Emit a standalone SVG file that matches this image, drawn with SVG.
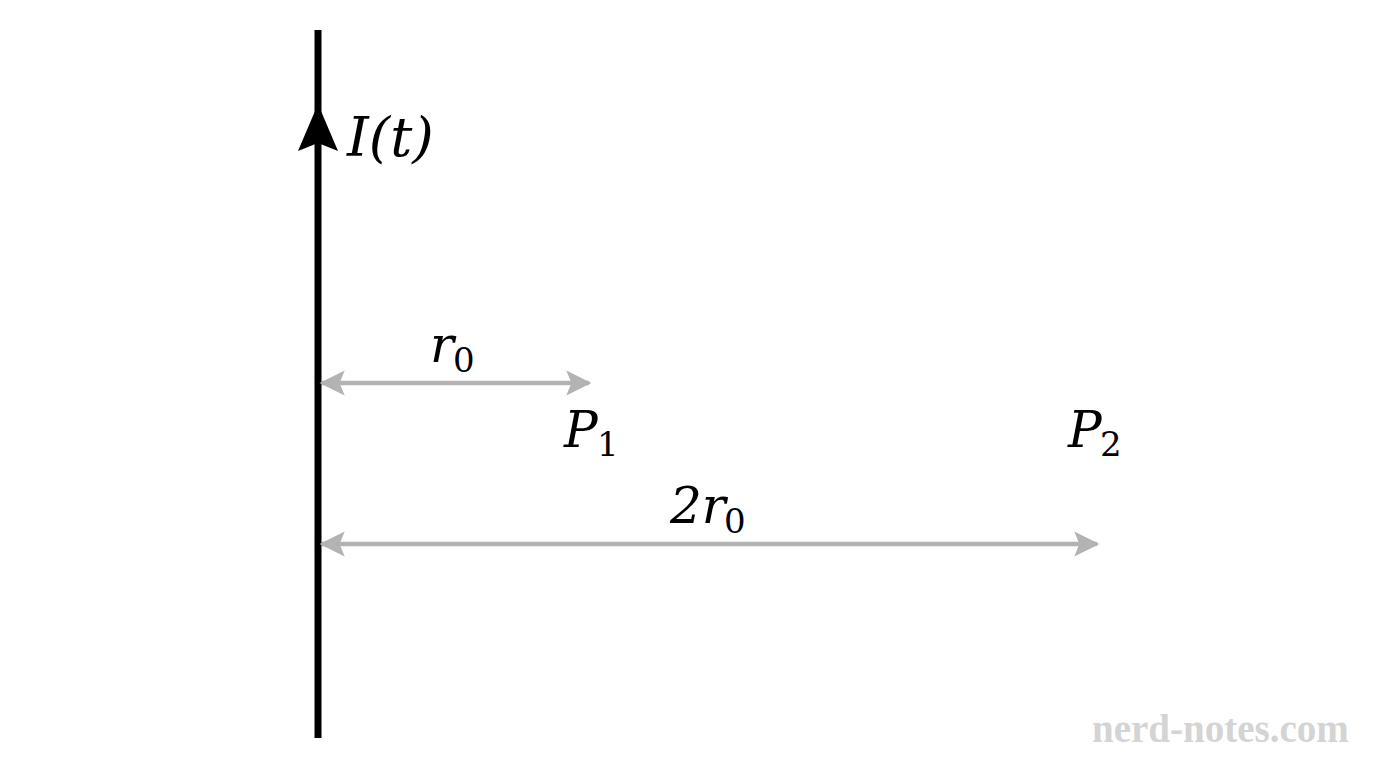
<svg xmlns="http://www.w3.org/2000/svg" width="1376" height="768" viewBox="0 0 1376 768">
<style>
.m{font-family:"DejaVu Serif","Liberation Serif",serif;font-style:italic;fill:#000;font-size:50px}
.s{font-family:"DejaVu Serif","Liberation Serif",serif;font-style:normal;fill:#000;font-size:34px}
.g{stroke:#b3b3b3;stroke-width:4.5;fill:none}
.wm{font-family:"Liberation Serif","DejaVu Serif",serif;font-size:39px;fill:#d4d4d4;font-weight:bold}
</style>
<defs>
<marker id="ga" viewBox="0 0 10 10" refX="9" refY="5" markerWidth="7" markerHeight="5.6" markerUnits="strokeWidth" orient="auto-start-reverse">
<path d="M0,0 L10,5 L0,10 L2,5 Z" fill="#b3b3b3"/>
</marker>
</defs>
<rect width="1376" height="768" fill="#fff"/>
<g id="wire">
<line x1="318" y1="30" x2="318" y2="738" stroke="#000" stroke-width="7"/>
<path d="M318,104 L338,151 L318,143 L298,151 Z" fill="#000"/>
<text class="m" x="347" y="156" style="font-size:55px">I(t)</text>
</g>
<g id="connectors">
<line class="g" x1="322" y1="383" x2="589" y2="383" marker-start="url(#ga)" marker-end="url(#ga)"/>
<line class="g" x1="322" y1="544" x2="1097" y2="544" marker-start="url(#ga)" marker-end="url(#ga)"/>
</g>
<g id="label-r0">
<text class="m" x="430" y="362">r</text><text class="s" x="453" y="372">0</text>
</g>
<g id="P1">
<text class="m" x="564" y="447">P</text><text class="s" x="597" y="456">1</text>
</g>
<g id="P2">
<text class="m" x="1068" y="447">P</text><text class="s" x="1100" y="456">2</text>
</g>
<g id="label-2r0">
<text class="m" x="670" y="523">2r</text><text class="s" x="724" y="533">0</text>
</g>
<text class="wm" x="1092" y="742">nerd-notes.com</text>
</svg>
